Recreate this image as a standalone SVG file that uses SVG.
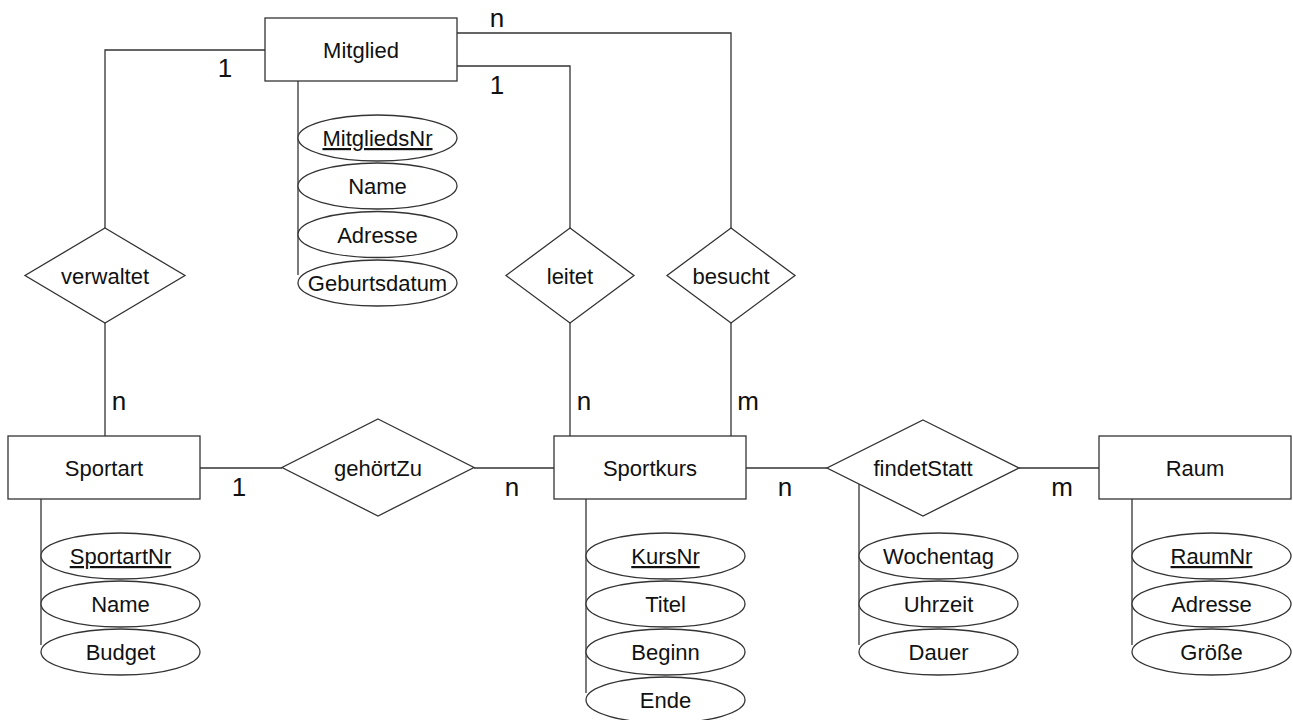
<svg xmlns="http://www.w3.org/2000/svg" width="1293" height="720" viewBox="0 0 1293 720">
<style>
.ent rect, .rel polygon, .att ellipse { fill: #fff; stroke: #333; stroke-width: 1.3; }
.conn path { fill: none; stroke: #333; stroke-width: 1.3; }
text { font-family: "Liberation Sans", Arial, sans-serif; fill: #111; }
.lbl { font-size: 22px; text-anchor: middle; }
.key { text-decoration: underline; }
.card { font-size: 26px; text-anchor: middle; }
</style>
<rect width="1293" height="720" fill="#fff"/>
<g id="connectors" class="conn">
<path d="M265,50 H105 V228"/>
<path d="M105,323 V436"/>
<path d="M457,33 H731 V228"/>
<path d="M457,66 H570 V228"/>
<path d="M570,323 V436"/>
<path d="M731,323 V436"/>
<path d="M200,468 H282"/>
<path d="M474,468 H554"/>
<path d="M746,468 H827"/>
<path d="M1019,468 H1099"/>
<path d="M298,81 V275"/>
<path d="M41,499 V645"/>
<path d="M586,499 V693"/>
<path d="M859,484 V645"/>
<path d="M1132,499 V645"/>
</g>
<g id="cardinalities">
<text class="card" x="225" y="77">1</text>
<text class="card" x="497" y="27">n</text>
<text class="card" x="497" y="94">1</text>
<text class="card" x="119" y="410">n</text>
<text class="card" x="239" y="496">1</text>
<text class="card" x="512" y="496">n</text>
<text class="card" x="584" y="410">n</text>
<text class="card" x="748" y="410">m</text>
<text class="card" x="785" y="496">n</text>
<text class="card" x="1062" y="496">m</text>
</g>
<g id="Mitglied" class="ent"><rect x="265" y="18" width="192" height="63"/><text class="lbl" x="361" y="57.5">Mitglied</text></g>
<g id="Sportart" class="ent"><rect x="8" y="436" width="192" height="63"/><text class="lbl" x="104" y="475.5">Sportart</text></g>
<g id="Sportkurs" class="ent"><rect x="554" y="436" width="192" height="63"/><text class="lbl" x="650" y="475.5">Sportkurs</text></g>
<g id="Raum" class="ent"><rect x="1099" y="436" width="192" height="63"/><text class="lbl" x="1195" y="475.5">Raum</text></g>
<g id="verwaltet" class="rel"><polygon points="105,228 185,275.5 105,323 25,275.5"/><text class="lbl" x="105" y="283.5">verwaltet</text></g>
<g id="leitet" class="rel"><polygon points="570,228 634,275.5 570,323 506,275.5"/><text class="lbl" x="570" y="283.5">leitet</text></g>
<g id="besucht" class="rel"><polygon points="731,228 795,275.5 731,323 667,275.5"/><text class="lbl" x="731" y="283.5">besucht</text></g>
<g id="gehoertZu" class="rel"><polygon points="378,419 474,467.5 378,516 282,467.5"/><text class="lbl" x="378" y="475.5">gehörtZu</text></g>
<g id="findetStatt" class="rel"><polygon points="923,420 1019,468 923,516 827,468"/><text class="lbl" x="923" y="476">findetStatt</text></g>
<g id="Mitglied-attrs" class="att">
<ellipse cx="377.5" cy="138" rx="79.5" ry="23"/><text class="lbl key" x="377.5" y="146">MitgliedsNr</text>
<ellipse cx="377.5" cy="186" rx="79.5" ry="23"/><text class="lbl" x="377.5" y="194">Name</text>
<ellipse cx="377.5" cy="234.5" rx="79.5" ry="23"/><text class="lbl" x="377.5" y="242.5">Adresse</text>
<ellipse cx="377.5" cy="283" rx="79.5" ry="23"/><text class="lbl" x="377.5" y="291">Geburtsdatum</text>
</g>
<g id="Sportart-attrs" class="att">
<ellipse cx="120.5" cy="556" rx="79.5" ry="23"/><text class="lbl key" x="120.5" y="564">SportartNr</text>
<ellipse cx="120.5" cy="604" rx="79.5" ry="23"/><text class="lbl" x="120.5" y="612">Name</text>
<ellipse cx="120.5" cy="652" rx="79.5" ry="23"/><text class="lbl" x="120.5" y="660">Budget</text>
</g>
<g id="Sportkurs-attrs" class="att">
<ellipse cx="665.5" cy="556" rx="79.5" ry="23"/><text class="lbl key" x="665.5" y="564">KursNr</text>
<ellipse cx="665.5" cy="604" rx="79.5" ry="23"/><text class="lbl" x="665.5" y="612">Titel</text>
<ellipse cx="665.5" cy="652" rx="79.5" ry="23"/><text class="lbl" x="665.5" y="660">Beginn</text>
<ellipse cx="665.5" cy="700" rx="79.5" ry="23"/><text class="lbl" x="665.5" y="708">Ende</text>
</g>
<g id="findetStatt-attrs" class="att">
<ellipse cx="938.5" cy="556" rx="79.5" ry="23"/><text class="lbl" x="938.5" y="564">Wochentag</text>
<ellipse cx="938.5" cy="604" rx="79.5" ry="23"/><text class="lbl" x="938.5" y="612">Uhrzeit</text>
<ellipse cx="938.5" cy="652" rx="79.5" ry="23"/><text class="lbl" x="938.5" y="660">Dauer</text>
</g>
<g id="Raum-attrs" class="att">
<ellipse cx="1211.5" cy="556" rx="79.5" ry="23"/><text class="lbl key" x="1211.5" y="564">RaumNr</text>
<ellipse cx="1211.5" cy="604" rx="79.5" ry="23"/><text class="lbl" x="1211.5" y="612">Adresse</text>
<ellipse cx="1211.5" cy="652" rx="79.5" ry="23"/><text class="lbl" x="1211.5" y="660">Größe</text>
</g>
</svg>
